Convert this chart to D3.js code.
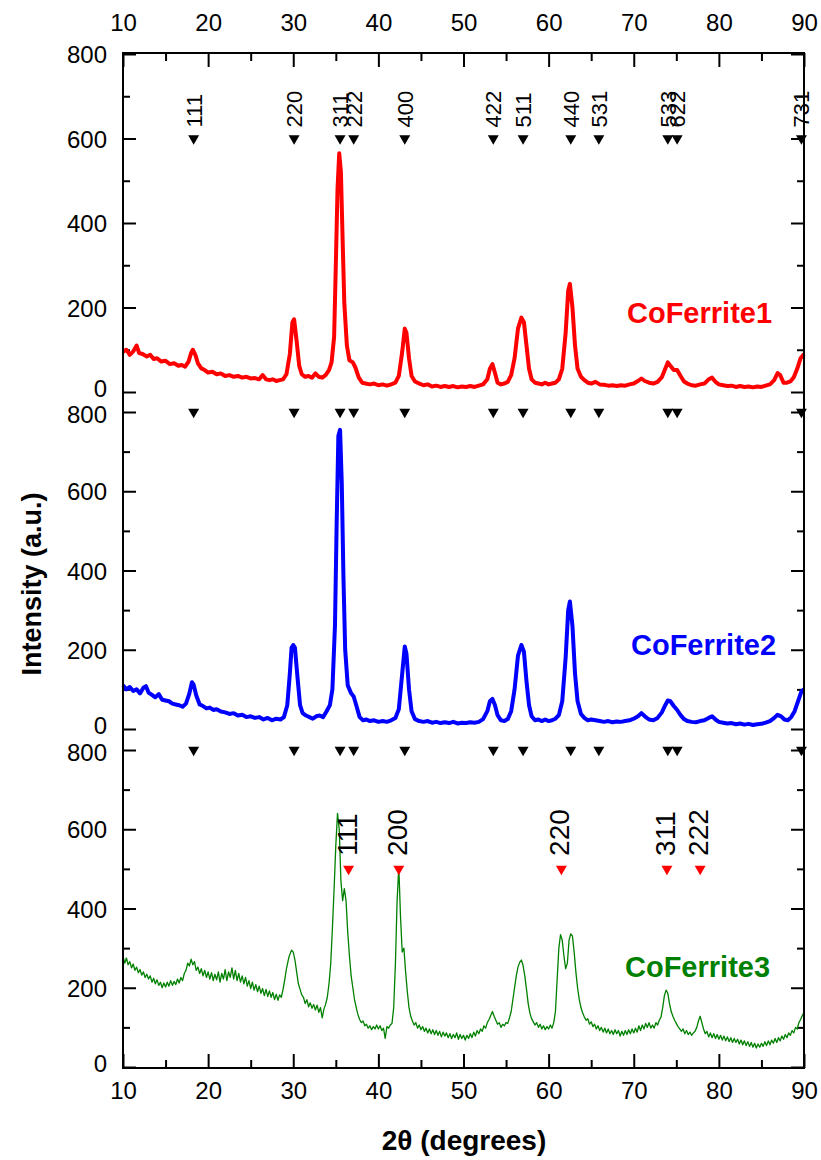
<!DOCTYPE html>
<html>
<head>
<meta charset="utf-8">
<script src="https://cdn.jsdelivr.net/npm/d3@7"></script>
<style>
  body { margin: 0; background: #fff; }
  text { font-family: "Liberation Sans", Arial, sans-serif; }
</style>
</head>
<body>
<div id="chart"></div>
<script>
// Chart data
// --------------------------------------------------------------------------------------------

// Axis ticks
const twoThetaMajor = [10, 20, 30, 40, 50, 60, 70, 80, 90]
const twoThetaMinor = [15, 25, 35, 45, 55, 65, 75, 85]
const intensityMajor = [0, 200, 400, 600, 800]
const intensityMinor = [100, 300, 500, 700]

// Spinel CoFe2O4 reflections (black markers)
const spinelPos = [18.3, 30.1, 35.5, 37.1, 43.1, 53.5, 57.0, 62.6, 65.9, 74.0, 75.1, 89.7]
const spinelLabels = ["111", "220", "311", "222", "400", "422", "511", "440", "531", "533", "622", "731"]

// CoO reflections (red markers, bottom panel)
const cooPos = [36.5, 42.4, 61.5, 73.9, 77.8]
const cooLabels = ["111", "200", "220", "311", "222"]

// Marker heights (intensity in each panel)
const spinelMarkerLevel = [600, 800, 800]
const cooMarkerLevel = 500

const seriesNames = ["CoFerrite1", "CoFerrite2", "CoFerrite3"]
const seriesColours = ["#ff0000", "#0000ff", "#008000"]

// [2theta, intensity]
const coFerrite1 = [[10,95],[10.4,100],[10.8,88],[11.2,96],[11.6,110],[11.9,92],[12.3,90],[12.8,84],[13.2,88],[13.6,78],[14.0,80],[14.5,72],[15.0,74],[15.5,66],[16.0,68],[16.5,62],[16.9,64],[17.3,60],[17.7,72],[18.0,92],[18.2,100],[18.5,88],[18.8,68],[19.2,56],[19.6,52],[20.0,46],[20.5,48],[21.0,42],[21.5,44],[22.0,38],[22.5,40],[23.0,36],[23.5,38],[24.0,34],[24.5,36],[25.0,32],[25.5,33],[26.0,30],[26.4,40],[26.8,30],[27.2,28],[27.6,30],[28.0,26],[28.4,28],[28.8,30],[29.2,42],[29.6,90],[29.9,165],[30.1,172],[30.4,120],[30.7,62],[31.0,42],[31.4,36],[31.8,38],[32.2,34],[32.6,44],[33.0,36],[33.4,34],[33.8,40],[34.2,52],[34.5,70],[34.8,130],[35.0,300],[35.2,480],[35.4,565],[35.6,520],[35.8,360],[36.0,210],[36.3,110],[36.6,75],[37.0,70],[37.3,58],[37.7,34],[38.1,22],[38.5,20],[39.0,18],[39.5,20],[40.0,16],[40.5,18],[41.0,15],[41.5,18],[42.0,22],[42.4,38],[42.8,95],[43.1,150],[43.3,140],[43.6,80],[43.9,38],[44.3,25],[44.8,20],[45.3,16],[45.8,18],[46.3,13],[46.8,15],[47.3,12],[47.8,14],[48.3,12],[48.8,14],[49.3,11],[49.8,13],[50.3,12],[50.8,14],[51.3,12],[51.8,15],[52.3,18],[52.8,30],[53.1,55],[53.4,66],[53.7,45],[54.0,22],[54.4,18],[54.8,20],[55.2,24],[55.6,40],[56.0,80],[56.4,150],[56.8,176],[57.1,165],[57.4,110],[57.7,55],[58.0,30],[58.4,22],[58.8,20],[59.2,18],[59.6,22],[60.0,18],[60.4,20],[60.8,22],[61.2,30],[61.6,55],[62.0,140],[62.3,240],[62.5,256],[62.8,200],[63.1,110],[63.4,55],[63.8,36],[64.2,28],[64.6,22],[65.0,20],[65.5,24],[66.0,18],[66.5,17],[67.0,15],[67.5,16],[68.0,14],[68.5,16],[69.0,15],[69.5,18],[70.0,20],[70.5,26],[70.9,32],[71.3,26],[71.8,22],[72.3,20],[72.8,24],[73.3,35],[73.7,55],[74.0,70],[74.3,62],[74.7,52],[75.1,52],[75.5,38],[75.9,25],[76.3,20],[76.8,16],[77.3,15],[77.8,18],[78.3,20],[78.8,30],[79.2,34],[79.6,24],[80.0,18],[80.5,16],[81.0,14],[81.5,15],[82.0,12],[82.5,14],[83.0,12],[83.5,13],[84.0,11],[84.5,13],[85.0,12],[85.5,15],[86.0,18],[86.5,28],[86.9,45],[87.2,40],[87.6,22],[88.0,22],[88.4,25],[88.8,35],[89.2,55],[89.6,80],[90,90]]

const coFerrite2 = [[10,110],[10.4,100],[10.8,106],[11.2,96],[11.6,100],[12.0,90],[12.4,104],[12.7,108],[13.0,92],[13.4,86],[13.8,80],[14.2,88],[14.6,74],[15.0,72],[15.4,70],[15.8,64],[16.2,62],[16.6,60],[17.0,56],[17.4,64],[17.8,90],[18.1,118],[18.3,112],[18.6,85],[19.0,62],[19.4,58],[19.8,52],[20.2,54],[20.6,48],[21.0,50],[21.5,44],[22.0,42],[22.5,38],[23.0,40],[23.5,34],[24.0,36],[24.5,30],[25.0,32],[25.5,28],[26.0,30],[26.5,24],[27.0,28],[27.5,22],[28.0,26],[28.5,24],[28.9,30],[29.3,60],[29.6,140],[29.8,205],[30.0,212],[30.2,205],[30.5,130],[30.8,60],[31.1,40],[31.5,34],[31.9,30],[32.3,26],[32.7,32],[33.1,34],[33.5,30],[33.9,44],[34.3,60],[34.6,100],[34.9,260],[35.1,520],[35.3,740],[35.5,755],[35.7,620],[35.9,380],[36.1,200],[36.4,110],[36.8,90],[37.1,82],[37.4,60],[37.8,30],[38.2,22],[38.6,24],[39.0,20],[39.5,22],[40.0,18],[40.5,20],[41.0,18],[41.5,22],[42.0,28],[42.4,50],[42.8,140],[43.1,208],[43.3,190],[43.6,100],[43.9,45],[44.3,25],[44.8,20],[45.3,18],[45.8,20],[46.3,16],[46.8,18],[47.3,15],[47.8,17],[48.3,15],[48.8,18],[49.3,14],[49.8,16],[50.3,15],[50.8,17],[51.3,16],[51.8,18],[52.3,25],[52.8,45],[53.1,70],[53.4,76],[53.7,60],[54.0,35],[54.4,22],[54.8,20],[55.2,25],[55.6,45],[56.0,100],[56.4,185],[56.8,212],[57.1,195],[57.4,120],[57.7,60],[58.0,32],[58.4,22],[58.8,24],[59.2,20],[59.6,24],[60.0,20],[60.4,22],[60.8,26],[61.2,35],[61.6,70],[62.0,180],[62.3,300],[62.5,322],[62.8,260],[63.1,140],[63.4,70],[63.8,38],[64.2,28],[64.6,22],[65.0,24],[65.5,22],[66.0,20],[66.5,18],[67.0,20],[67.5,17],[68.0,19],[68.5,18],[69.0,20],[69.5,22],[70.0,26],[70.5,32],[70.9,40],[71.3,32],[71.8,24],[72.3,22],[72.8,28],[73.3,42],[73.7,60],[74.0,72],[74.3,70],[74.7,58],[75.1,48],[75.5,35],[75.9,25],[76.3,20],[76.8,18],[77.3,17],[77.8,20],[78.3,22],[78.8,28],[79.2,32],[79.6,24],[80.0,18],[80.5,16],[81.0,14],[81.5,15],[82.0,12],[82.5,14],[83.0,11],[83.5,13],[84.0,10],[84.5,12],[85.0,13],[85.5,16],[86.0,20],[86.5,28],[86.9,36],[87.3,32],[87.7,24],[88.1,22],[88.5,30],[88.9,45],[89.3,70],[89.7,95],[90,100]]

const coFerrite3 = [[10,280],[10.2,262],[10.4,275],[10.6,258],[10.8,266],[11.0,250],[11.2,260],[11.4,244],[11.6,252],[11.8,238],[12.0,246],[12.2,232],[12.4,240],[12.6,226],[12.8,234],[13.0,222],[13.2,230],[13.4,214],[13.6,224],[13.8,210],[14.0,220],[14.2,206],[14.4,214],[14.6,200],[14.8,212],[15.0,202],[15.2,214],[15.4,204],[15.6,218],[15.8,206],[16.0,216],[16.2,208],[16.4,222],[16.6,212],[16.8,226],[17.0,218],[17.2,236],[17.4,244],[17.6,262],[17.8,255],[18.0,272],[18.2,258],[18.4,266],[18.6,244],[18.8,252],[19.0,236],[19.2,248],[19.4,230],[19.6,244],[19.8,226],[20.0,240],[20.2,222],[20.4,238],[20.6,218],[20.8,234],[21.0,220],[21.2,240],[21.4,214],[21.6,236],[21.8,222],[22.0,246],[22.2,218],[22.4,240],[22.6,226],[22.8,250],[23.0,222],[23.2,244],[23.4,218],[23.6,236],[23.8,214],[24.0,230],[24.2,210],[24.4,226],[24.6,204],[24.8,218],[25.0,198],[25.2,214],[25.4,194],[25.6,208],[25.8,190],[26.0,204],[26.2,186],[26.4,198],[26.6,180],[26.8,196],[27.0,178],[27.2,192],[27.4,176],[27.6,188],[27.8,170],[28.0,184],[28.2,168],[28.4,182],[28.6,176],[28.8,196],[29.0,220],[29.2,248],[29.5,278],[29.8,295],[30.0,290],[30.2,270],[30.4,240],[30.6,210],[30.8,196],[31.0,182],[31.2,176],[31.4,160],[31.6,170],[31.8,152],[32.0,162],[32.2,148],[32.4,158],[32.6,144],[32.8,156],[33.0,138],[33.2,150],[33.4,124],[33.6,146],[33.8,158],[34.0,176],[34.2,210],[34.4,260],[34.6,350],[34.8,450],[35.0,560],[35.2,640],[35.4,600],[35.6,470],[35.8,420],[36.0,450],[36.2,420],[36.4,340],[36.6,280],[36.8,230],[37.0,200],[37.2,170],[37.4,150],[37.6,132],[37.8,120],[38.0,112],[38.2,116],[38.4,104],[38.6,108],[38.8,98],[39.0,104],[39.2,94],[39.4,102],[39.6,96],[39.8,106],[40.0,96],[40.2,104],[40.4,92],[40.6,98],[40.8,72],[41.0,102],[41.2,98],[41.4,106],[41.6,110],[41.8,150],[42.0,260],[42.2,420],[42.4,505],[42.6,380],[42.8,290],[43.0,300],[43.2,240],[43.4,190],[43.6,150],[43.8,128],[44.0,116],[44.2,106],[44.4,112],[44.6,98],[44.8,106],[45.0,94],[45.2,102],[45.4,90],[45.6,98],[45.8,86],[46.0,96],[46.2,84],[46.4,94],[46.6,82],[46.8,92],[47.0,80],[47.2,90],[47.4,76],[47.6,88],[47.8,78],[48.0,86],[48.2,74],[48.4,84],[48.6,72],[48.8,82],[49.0,74],[49.2,86],[49.4,70],[49.6,82],[49.8,72],[50.0,80],[50.2,68],[50.4,80],[50.6,72],[50.8,84],[51.0,74],[51.2,88],[51.4,78],[51.6,92],[51.8,84],[52.0,96],[52.2,90],[52.4,104],[52.6,98],[52.8,112],[53.0,120],[53.2,130],[53.4,140],[53.6,128],[53.8,118],[54.0,108],[54.2,112],[54.4,100],[54.6,108],[54.8,104],[55.0,112],[55.2,110],[55.4,124],[55.6,140],[55.8,170],[56.0,200],[56.2,230],[56.4,252],[56.6,264],[56.8,270],[57.0,256],[57.2,230],[57.4,196],[57.6,160],[57.8,136],[58.0,122],[58.2,114],[58.4,106],[58.6,112],[58.8,100],[59.0,108],[59.2,96],[59.4,104],[59.6,94],[59.8,102],[60.0,96],[60.2,106],[60.4,98],[60.6,112],[60.8,140],[61.0,220],[61.2,300],[61.4,334],[61.6,320],[61.8,280],[62.0,248],[62.2,262],[62.4,320],[62.6,336],[62.8,330],[63.0,290],[63.2,240],[63.4,200],[63.6,170],[63.8,150],[64.0,136],[64.2,126],[64.4,118],[64.6,122],[64.8,108],[65.0,114],[65.2,102],[65.4,108],[65.6,96],[65.8,104],[66.0,92],[66.2,100],[66.4,88],[66.6,98],[66.8,86],[67.0,96],[67.2,84],[67.4,92],[67.6,82],[67.8,94],[68.0,84],[68.2,92],[68.4,78],[68.6,90],[68.8,80],[69.0,92],[69.2,82],[69.4,94],[69.6,84],[69.8,96],[70.0,86],[70.2,98],[70.4,88],[70.6,104],[70.8,92],[71.0,106],[71.2,96],[71.4,110],[71.6,100],[71.8,112],[72.0,98],[72.2,106],[72.4,98],[72.6,112],[72.8,106],[73.0,118],[73.2,126],[73.4,150],[73.6,180],[73.8,194],[74.0,186],[74.2,160],[74.4,140],[74.6,128],[74.8,118],[75.0,110],[75.2,102],[75.4,96],[75.6,90],[75.8,96],[76.0,84],[76.2,92],[76.4,82],[76.6,88],[76.8,80],[77.0,86],[77.2,90],[77.4,100],[77.6,116],[77.8,128],[78.0,112],[78.2,96],[78.4,84],[78.6,90],[78.8,76],[79.0,86],[79.2,74],[79.4,84],[79.6,72],[79.8,82],[80.0,70],[80.2,80],[80.4,68],[80.6,78],[80.8,66],[81.0,76],[81.2,64],[81.4,74],[81.6,62],[81.8,72],[82.0,62],[82.2,70],[82.4,58],[82.6,68],[82.8,56],[83.0,66],[83.2,54],[83.4,64],[83.6,52],[83.8,62],[84.0,50],[84.2,60],[84.4,48],[84.6,58],[84.8,50],[85.0,60],[85.2,52],[85.4,64],[85.6,54],[85.8,66],[86.0,56],[86.2,68],[86.4,60],[86.6,72],[86.8,62],[87.0,74],[87.2,66],[87.4,78],[87.6,70],[87.8,82],[88.0,74],[88.2,86],[88.4,80],[88.6,92],[88.8,86],[89.0,100],[89.2,96],[89.4,112],[89.6,120],[89.8,130],[90,138]]

const seriesData = [coFerrite1, coFerrite2, coFerrite3]


function drawChart(container) {

    // Layout
    // --------------------------------------------------------------------------------------------
    const width = 821, height = 1160
    const left = 123, right = 804, top = 53, bottom = 1068
    // pixel extent [bottom, top] of each stacked panel
    const panelRanges = [[392, 54], [729, 412], [1067, 750]]
    const lineWidths = [4, 4, 1.3]
    const legendPos = [[627, 323], [631, 655], [625, 977]]

    let svg = d3.select(container).append("svg")
        .attr("width", width)
        .attr("height", height)

    let x = d3.scaleLinear().domain([10, 90]).range([left, right])

    let tri = d3.symbol().type(d3.symbolTriangle).size(52)

    // Panels
    // --------------------------------------------------------------------------------------------
    panelRanges.forEach((r, i) => {
        let y = d3.scaleLinear().domain([0, 800]).range(r)
        let g = svg.append("g").attr("class", "panel" + i)

        // left axis, ticks inward
        g.append("g")
            .attr("transform", "translate(" + left + ",0)")
            .call(d3.axisLeft(y).tickValues(intensityMajor).tickSizeInner(-13).tickSizeOuter(0).tickPadding(16))
            .call(a => a.select(".domain").remove())
            .call(a => a.selectAll("text")
                .style("font-size", "24px")
                .attr("dy", d => d == 0 ? "0.2em" : (d == 800 && i > 0 ? "0.45em" : "0.36em")))
        g.append("g")
            .attr("transform", "translate(" + left + ",0)")
            .call(d3.axisLeft(y).tickValues(intensityMinor).tickSizeInner(-7).tickSizeOuter(0).tickFormat(""))
            .call(a => a.select(".domain").remove())

        // right axis, ticks inward, no labels
        g.append("g")
            .attr("transform", "translate(" + right + ",0)")
            .call(d3.axisRight(y).tickValues(intensityMajor).tickSizeInner(-13).tickSizeOuter(0).tickFormat(""))
            .call(a => a.select(".domain").remove())
        g.append("g")
            .attr("transform", "translate(" + right + ",0)")
            .call(d3.axisRight(y).tickValues(intensityMinor).tickSizeInner(-7).tickSizeOuter(0).tickFormat(""))
            .call(a => a.select(".domain").remove())

        g.selectAll(".tick line").attr("stroke-width", 2)

        // pattern
        let line = d3.line()
            .x(d => x(d[0]))
            .y(d => y(d[1]))

        g.append("path")
            .datum(seriesData[i])
            .attr("d", line)
            .style("fill", "none")
            .style("stroke", seriesColours[i])
            .style("stroke-width", lineWidths[i])
            .style("stroke-linejoin", "round")

        // spinel markers
        g.selectAll(".spinel")
            .data(spinelPos)
            .enter()
            .append("path")
            .attr("class", "spinel")
            .attr("d", tri)
            .attr("transform", d => "translate(" + x(d) + "," + y(spinelMarkerLevel[i]) + ") rotate(180)")
            .style("fill", "black")

        // legend label
        svg.append("text")
            .attr("x", legendPos[i][0])
            .attr("y", legendPos[i][1])
            .style("font-size", "29px")
            .style("font-weight", "bold")
            .style("fill", seriesColours[i])
            .text(seriesNames[i])

        if (i == 0) {
            g.selectAll(".spinel-label")
                .data(spinelPos)
                .enter()
                .append("text")
                .attr("class", "spinel-label")
                .attr("transform", d => "translate(" + x(d) + "," + (y(600) - 11) + ") rotate(-90)")
                .attr("dy", "0.36em")
                .style("font-size", "22px")
                .text((d, k) => spinelLabels[k])
        }

        if (i == 2) {
            g.selectAll(".coo")
                .data(cooPos)
                .enter()
                .append("path")
                .attr("class", "coo")
                .attr("d", tri)
                .attr("transform", d => "translate(" + x(d) + "," + y(cooMarkerLevel) + ") rotate(180)")
                .style("fill", "#ff0000")

            g.selectAll(".coo-label")
                .data(cooPos)
                .enter()
                .append("text")
                .attr("class", "coo-label")
                .attr("transform", d => "translate(" + (x(d) - 2) + "," + (y(cooMarkerLevel) - 13) + ") rotate(-90)")
                .attr("dy", "0.36em")
                .style("font-size", "28px")
                .text((d, k) => cooLabels[k])
        }
    })

    // X axes (top and bottom)
    // --------------------------------------------------------------------------------------------
    svg.append("g")
        .attr("transform", "translate(0," + top + ")")
        .call(d3.axisTop(x).tickValues(twoThetaMajor).tickSizeInner(-14).tickSizeOuter(0).tickPadding(22))
        .call(a => a.select(".domain").remove())
        .call(a => a.selectAll("text").style("font-size", "24px"))
    svg.append("g")
        .attr("transform", "translate(0," + top + ")")
        .call(d3.axisTop(x).tickValues(twoThetaMinor).tickSizeInner(-8).tickSizeOuter(0).tickFormat(""))
        .call(a => a.select(".domain").remove())

    svg.append("g")
        .attr("transform", "translate(0," + bottom + ")")
        .call(d3.axisBottom(x).tickValues(twoThetaMajor).tickSizeInner(-14).tickSizeOuter(0).tickPadding(14))
        .call(a => a.select(".domain").remove())
        .call(a => a.selectAll("text").style("font-size", "24px"))
    svg.append("g")
        .attr("transform", "translate(0," + bottom + ")")
        .call(d3.axisBottom(x).tickValues(twoThetaMinor).tickSizeInner(-8).tickSizeOuter(0).tickFormat(""))
        .call(a => a.select(".domain").remove())

    svg.selectAll(".tick line").attr("stroke-width", 2)
    svg.selectAll(".tick text").style("fill", "black").style("font-family", "'Liberation Sans', Arial, sans-serif")

    // frame
    svg.append("rect")
        .attr("x", left)
        .attr("y", top)
        .attr("width", right - left)
        .attr("height", bottom - top)
        .style("fill", "none")
        .style("stroke", "black")
        .style("stroke-width", 2)

    // Axis titles
    svg.append("text")
        .attr("transform", "translate(41,584) rotate(-90)")
        .attr("text-anchor", "middle")
        .style("font-size", "27px")
        .style("font-weight", "bold")
        .text("Intensity (a.u.)")

    svg.append("text")
        .attr("x", 464)
        .attr("y", 1150)
        .attr("text-anchor", "middle")
        .style("font-size", "28px")
        .style("font-weight", "bold")
        .text("2θ (degrees)")
}

drawChart("#chart")
</script>
</body>
</html>
